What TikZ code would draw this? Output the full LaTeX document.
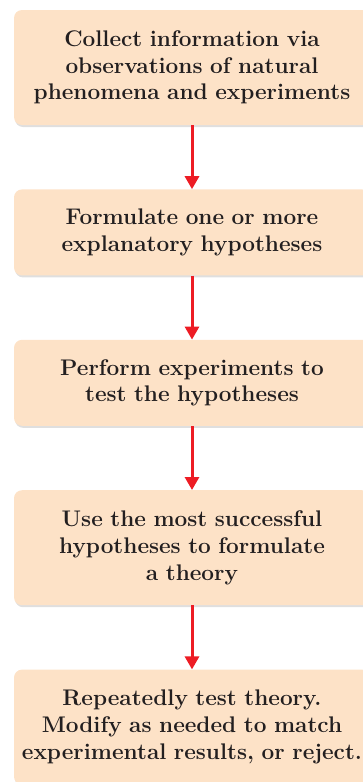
\documentclass[tikz,border=0pt]{standalone}
\usepackage{xcolor}
\usetikzlibrary{positioning}
\usetikzlibrary{shadows}
\usetikzlibrary{arrows.meta}
\definecolor{peach}{RGB}{253,226,199}
\definecolor{stepred}{RGB}{237,28,36}
\definecolor{inktext}{RGB}{35,31,32}

\begin{document}
\begin{tikzpicture}[x=1pt, y=1pt, >={Triangle[width=14pt, length=13pt]},
stepbox/.style={fill=peach, rounded corners=8pt, minimum width=356pt,
  text width=346pt, align=center, text=inktext, inner sep=0pt,
  font=\fontsize{22.6}{26.7}\selectfont\bfseries,
  drop shadow={shadow xshift=1pt, shadow yshift=-2pt, opacity=.25, fill=gray}},
tall/.style={minimum height=115pt},
short/.style={minimum height=86pt},
flow/.style={->, stepred, line width=3pt},
node distance=64pt,
]

%%%%%%%%%%%% SIZE OF THE PICTURE %%%%%%%%%%%%
\useasboundingbox (0,0) rectangle (362,-782);

%%%%%%%%%%%% STEPS %%%%%%%%%%%%
\node[stepbox, tall] (collect) at (192,-67.5) {Collect information via\\observations of natural\\phenomena and experiments};
\node[stepbox, short, below=of collect] (formulate) {Formulate one or more\\explanatory hypotheses};
\node[stepbox, short, below=of formulate] (perform) {Perform experiments to\\test the hypotheses};
\node[stepbox, tall, below=of perform] (theory) {Use the most successful\\hypotheses to formulate\\a theory};
\node[stepbox, tall, below=of theory] (retest) {Repeatedly test theory.\\Modify as needed to match\\experimental results, or reject.};

%%%%%%%%%%%% ARROWS %%%%%%%%%%%%
\draw[flow] (collect)--(formulate);
\draw[flow] (formulate)--(perform);
\draw[flow] (perform)--(theory);
\draw[flow] (theory)--(retest);
\end{tikzpicture}
\end{document}
